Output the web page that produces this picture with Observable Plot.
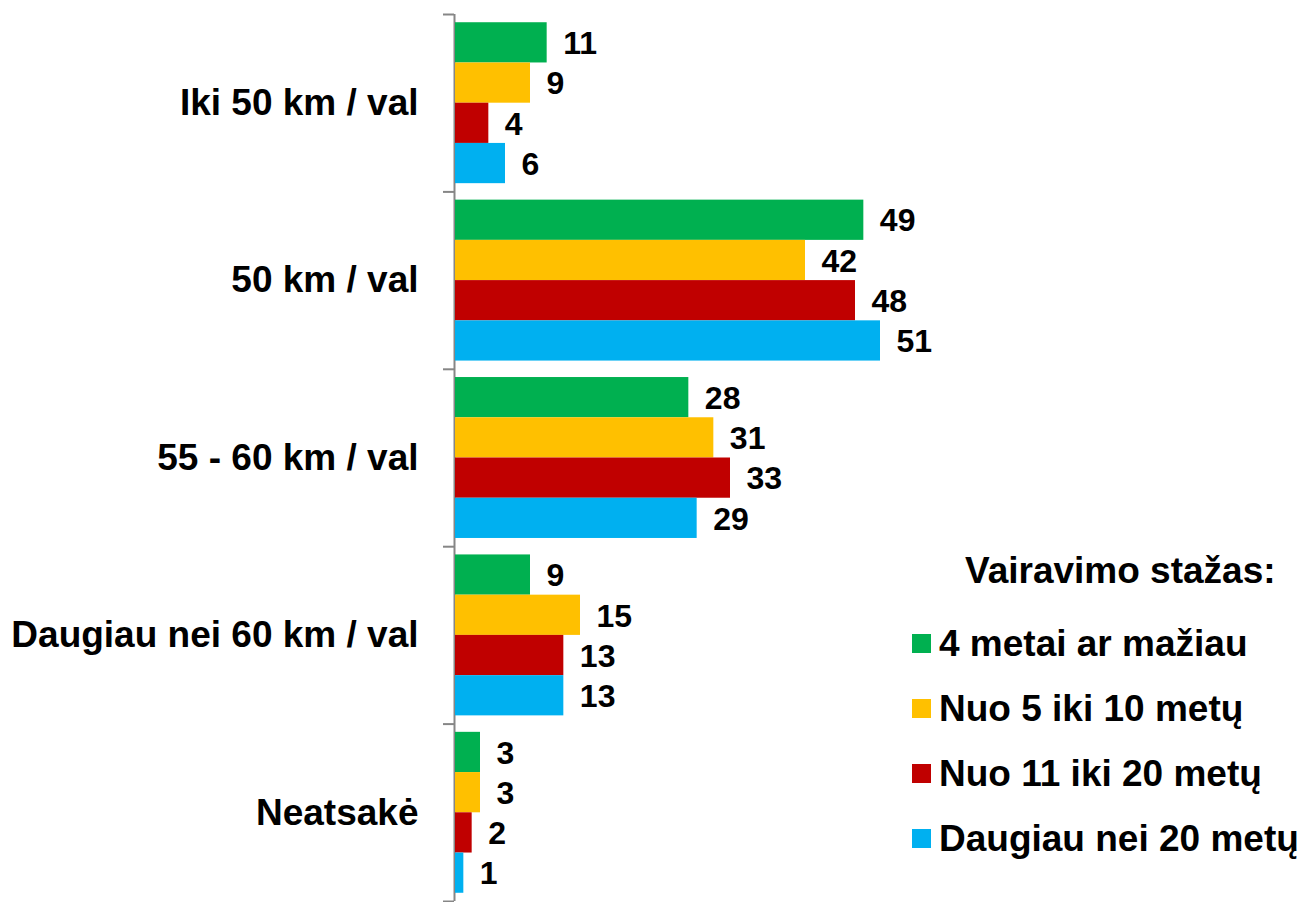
<!DOCTYPE html>
<html>
<head>
<meta charset="utf-8">
<script src="https://cdn.jsdelivr.net/npm/d3@7"></script>
<script src="https://cdn.jsdelivr.net/npm/@observablehq/plot@0.6"></script>
<style>
  html, body { margin: 0; padding: 0; background: #fff; }
  #wrap { position: relative; width: 1305px; height: 902px; font-family: "Liberation Sans", Arial, sans-serif; font-weight: bold; color: #000; }
  #chart svg { display: block; }
  #legend { position: absolute; left: 0; top: 0; width: 1305px; height: 902px; pointer-events: none; }
  .ltitle { position: absolute; left: 965px; top: 538px; font-size: 37px; line-height: 65px; white-space: nowrap; }
  .litem { position: absolute; left: 912px; font-size: 37px; line-height: 65px; white-space: nowrap; }
  .sw { display: inline-block; width: 19px; height: 19px; margin-right: 8px; vertical-align: 3px; }
</style>
</head>
<body>
<div id="wrap"><div id="chart"></div><div id="legend"></div></div>
<script>
const categories = ["Iki 50 km / val", "50 km / val", "55 - 60 km / val", "Daugiau nei 60 km / val", "Neatsakė"];
const seriesNames = ["4 metai ar mažiau", "Nuo 5 iki 10 metų", "Nuo 11 iki 20 metų", "Daugiau nei 20 metų"];
const seriesColors = ["#00B050", "#FFC000", "#C00000", "#00B0F0"];
const s1 = [11, 49, 28, 9, 3];
const s2 = [9, 42, 31, 15, 3];
const s3 = [4, 48, 33, 13, 2];
const s4 = [6, 51, 29, 13, 1];
const legendTitle = "Vairavimo stažas:";

const seriesValues = [s1, s2, s3, s4];
const barW = 0.2268;                       // bar thickness as fraction of a category band
const pad = (1 - seriesValues.length * barW) / 2;

const rows = [];
categories.forEach((c, ci) => {
  seriesValues.forEach((vals, si) => {
    const y1 = ci + pad + si * barW;
    rows.push({cat: c, series: seriesNames[si], value: vals[ci], y1, y2: y1 + barW, ym: y1 + barW / 2});
  });
});

const chart = Plot.plot({
  width: 1305,
  height: 902,
  marginLeft: 455,
  marginRight: 0,
  marginTop: 14,
  marginBottom: 1,
  style: {fontFamily: '"Liberation Sans", Arial, sans-serif', fontWeight: "bold", background: "white"},
  x: {type: "linear", domain: [0, 102], axis: null},
  y: {type: "linear", domain: [0, categories.length], reverse: true, axis: null},
  color: {domain: seriesNames, range: seriesColors},
  marks: [
    Plot.ruleX([0], {stroke: "#868686", strokeWidth: 2, dx: -1}),
    Plot.axisY({ticks: d3.range(categories.length + 1), tickFormat: () => "", tickSize: 11, stroke: "#868686", strokeWidth: 2, dx: -1, label: null}),
    Plot.axisY({ticks: categories.map((_, i) => i + 0.5), tickFormat: d => categories[Math.floor(d)], tickSize: 0, tickPadding: 37, fontSize: 37, fontWeight: "bold", fill: "#000", label: null}),
    Plot.rect(rows, {x1: 0, x2: "value", y1: "y1", y2: "y2", fill: "series"}),
    Plot.text(rows, {x: "value", y: "ym", text: d => String(d.value), textAnchor: "start", dx: 16, dy: 1, fontSize: 32, fontWeight: "bold", fill: "#000"})
  ]
});
document.getElementById("chart").appendChild(chart);

const legend = document.getElementById("legend");
const t = document.createElement("div");
t.className = "ltitle";
t.textContent = legendTitle;
legend.appendChild(t);
seriesNames.forEach((name, i) => {
  const it = document.createElement("div");
  it.className = "litem";
  it.style.top = (611 + i * 65) + "px";
  const sw = document.createElement("span");
  sw.className = "sw";
  sw.style.background = seriesColors[i];
  it.appendChild(sw);
  it.appendChild(document.createTextNode(name));
  legend.appendChild(it);
});
</script>
</body>
</html>
